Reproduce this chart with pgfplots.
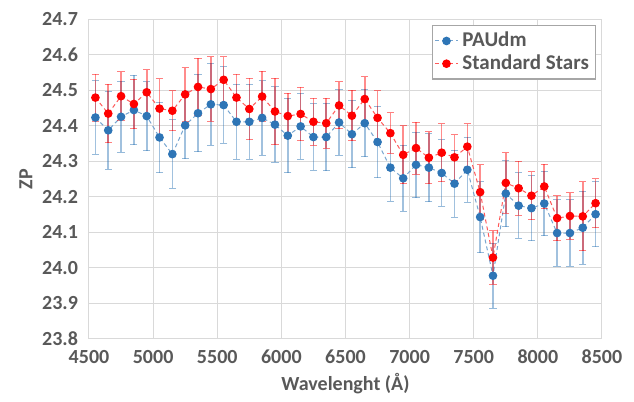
\documentclass[border=0pt]{standalone}
\usepackage{pgfplots}
\pgfplotsset{compat=1.18}
\usepackage{pgfplotstable}
\usepackage{fontspec}
\setmainfont{Carlito}
\definecolor{txt}{HTML}{595959}
\definecolor{gridc}{HTML}{D9D9D9}
\definecolor{pblue}{HTML}{2E75B6}
\definecolor{pred}{HTML}{FF0000}

\pgfplotstableread{
x y e
4550 24.423 0.104
4650 24.387 0.110
4750 24.425 0.100
4850 24.444 0.098
4950 24.427 0.097
5050 24.367 0.099
5150 24.320 0.096
5250 24.401 0.094
5350 24.435 0.109
5450 24.460 0.115
5550 24.458 0.108
5650 24.411 0.105
5750 24.411 0.105
5850 24.422 0.105
5950 24.403 0.106
6050 24.372 0.105
6150 24.398 0.093
6250 24.368 0.093
6350 24.368 0.095
6450 24.409 0.092
6550 24.376 0.095
6650 24.407 0.095
6750 24.354 0.100
6850 24.282 0.095
6950 24.252 0.093
7050 24.290 0.092
7150 24.282 0.096
7250 24.267 0.094
7350 24.237 0.094
7450 24.276 0.092
7550 24.143 0.100
7650 23.978 0.092
7750 24.209 0.093
7850 24.175 0.092
7950 24.168 0.091
8050 24.181 0.091
8150 24.098 0.093
8250 24.098 0.093
8350 24.113 0.103
8450 24.151 0.091
}\pau

\pgfplotstableread{
x y e
4550 24.479 0.066
4650 24.434 0.082
4750 24.483 0.069
4850 24.461 0.070
4950 24.494 0.064
5050 24.448 0.084
5150 24.442 0.056
5250 24.488 0.075
5350 24.509 0.080
5450 24.503 0.091
5550 24.529 0.065
5650 24.479 0.066
5750 24.447 0.087
5850 24.482 0.071
5950 24.440 0.093
6050 24.427 0.064
6150 24.433 0.075
6250 24.411 0.066
6350 24.407 0.070
6450 24.457 0.066
6550 24.428 0.071
6650 24.475 0.062
6750 24.422 0.076
6850 24.379 0.057
6950 24.318 0.082
7050 24.337 0.073
7150 24.310 0.073
7250 24.324 0.081
7350 24.311 0.064
7450 24.341 0.064
7550 24.213 0.077
7650 24.029 0.075
7750 24.239 0.085
7850 24.224 0.076
7950 24.203 0.067
8050 24.229 0.062
8150 24.140 0.063
8250 24.146 0.066
8350 24.145 0.097
8450 24.182 0.069
}\stars

\begin{document}
\begin{tikzpicture}
\useasboundingbox (-44.5pt,-31.5pt) rectangle (272.5pt,169.5pt);
\begin{axis}[
  scale only axis,
  width=256.5pt, height=160pt,
  xmin=4500, xmax=8500, ymin=23.8, ymax=24.7,
  xtick={4500,5000,...,8500},
  ytick={23.8,23.9,24.0,24.1,24.2,24.3,24.4,24.5,24.6,24.7},
  yticklabel style={/pgf/number format/fixed, /pgf/number format/fixed zerofill, /pgf/number format/precision=1, xshift=-2pt},
  xticklabel style={/pgf/number format/1000 sep={}, yshift=-2pt},
  /pgf/number format/assume math mode=true,
  ticklabel style={font=\fontsize{10}{12}\selectfont\bfseries, text=txt},
  major tick length=0pt,
  grid=major,
  major grid style={gridc, line width=0.5pt},
  axis line style={gridc, line width=0.5pt},
  xlabel={Wavelenght (Å)},
  ylabel={ZP},
  label style={font=\fontsize{10}{12}\selectfont\bfseries, text=txt},
  xlabel style={yshift=2pt},
  ylabel style={yshift=-2pt},
  legend style={at={(0.988,0.981)}, anchor=north east, draw=gray!70, line width=0.6pt,
    font=\fontsize{10.5}{12}\selectfont\bfseries, text=txt, inner sep=1.2pt,
    row sep=-1.5pt},
  legend cell align=left,
  legend image code/.code={
    \draw[#1, mark repeat=2, mark phase=2] plot coordinates {(0cm,0cm) (0.2cm,0cm) (0.4cm,0cm)};
  },
]
\addplot+[pblue!65, dashed, dash pattern=on 2pt off 1.5pt, line width=0.5pt,
  mark=*, mark size=1.9pt, mark options={solid, fill=pblue, draw=pblue},
  error bars/.cd, y dir=both, y explicit,
  error bar style={pblue, opacity=0.45, line width=0.8pt, solid},
  error mark options={rotate=90, mark size=1.8pt, pblue, opacity=0.5, line width=0.5pt}]
  table[x=x, y=y, y error=e] {\pau};
\addlegendentry{PAUdm}
\addplot+[pred!65, dashed, dash pattern=on 2pt off 1.5pt, line width=0.5pt,
  mark=*, mark size=1.9pt, mark options={solid, fill=pred, draw=pred},
  error bars/.cd, y dir=both, y explicit,
  error bar style={pred, opacity=0.45, line width=0.8pt, solid},
  error mark options={rotate=90, mark size=1.8pt, pred, opacity=0.5, line width=0.5pt}]
  table[x=x, y=y, y error=e] {\stars};
\addlegendentry{Standard Stars}
\end{axis}
\end{tikzpicture}
\end{document}
